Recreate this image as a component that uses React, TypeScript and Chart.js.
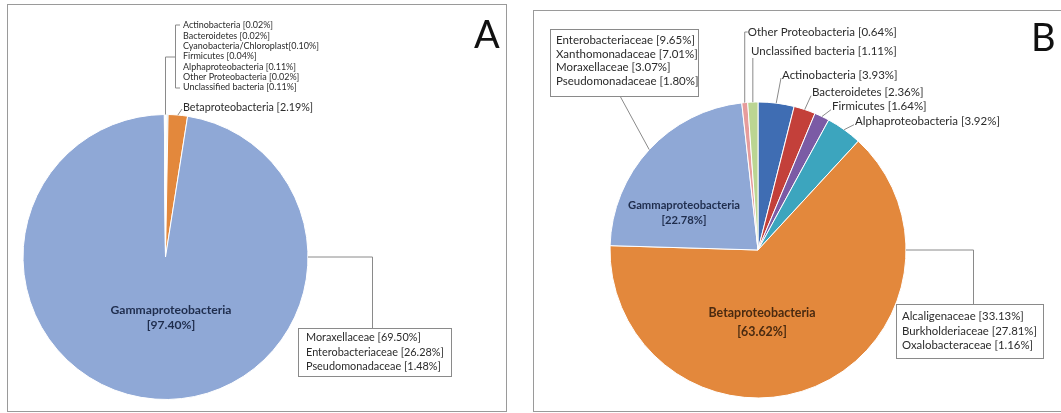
import React, { useEffect, useRef } from "react";
import { Chart, registerables } from "chart.js";

Chart.register(...registerables);

// ---------- DATA ----------
const phylaA = [
  "Actinobacteria",
  "Bacteroidetes",
  "Cyanobacteria/Chloroplast",
  "Firmicutes",
  "Alphaproteobacteria",
  "Betaproteobacteria",
  "Gammaproteobacteria",
  "Other Proteobacteria",
  "Unclassified bacteria",
];
const valuesA = [0.02, 0.02, 0.1, 0.04, 0.11, 2.19, 97.4, 0.02, 0.11];
const familiesA = ["Moraxellaceae", "Enterobacteriaceae", "Pseudomonadaceae"];
const familyValuesA = [69.5, 26.28, 1.48];

const phylaB = [
  "Actinobacteria",
  "Bacteroidetes",
  "Firmicutes",
  "Alphaproteobacteria",
  "Betaproteobacteria",
  "Gammaproteobacteria",
  "Other Proteobacteria",
  "Unclassified bacteria",
];
const valuesB = [3.93, 2.36, 1.64, 3.92, 63.62, 22.78, 0.64, 1.11];
const gammaFamiliesB = ["Enterobacteriaceae", "Xanthomonadaceae", "Moraxellaceae", "Pseudomonadaceae"];
const gammaFamilyValuesB = [9.65, 7.01, 3.07, 1.8];
const betaFamiliesB = ["Alcaligenaceae", "Burkholderiaceae", "Oxalobacteraceae"];
const betaFamilyValuesB = [33.13, 27.81, 1.16];

// ---------- STYLES ----------
const phylumColors: Record<string, string> = {
  Actinobacteria: "#3F6DB3",
  Bacteroidetes: "#C3403A",
  "Cyanobacteria/Chloroplast": "#9BBB59",
  Firmicutes: "#7B5BA5",
  Alphaproteobacteria: "#3CA5BE",
  Betaproteobacteria: "#E3883C",
  Gammaproteobacteria: "#8FA8D6",
  "Other Proteobacteria": "#E69C9C",
  "Unclassified bacteria": "#BBD592",
};

const FAMILY = "Lato, 'Noto Sans', sans-serif";
const TEXT = "#2b2b2b";
const LINE = "#8a8a8a";

const fmt = (name: string, v: number) =>
  name + (name.indexOf("/") >= 0 ? "" : " ") + "[" + v.toFixed(2) + "%]";

// font whose rendering of `sample` is `target` px wide
function fitFont(ctx: CanvasRenderingContext2D, sample: string, target: number, weight = "normal") {
  ctx.font = weight + " 10px " + FAMILY;
  const w = ctx.measureText(sample).width || 1;
  const size = (10 * target) / w;
  return weight + " " + size.toFixed(2) + "px " + FAMILY;
}

function arcGeom(chart: any, i: number) {
  const arc = chart.getDatasetMeta(0).data[i];
  return arc.getProps(["x", "y", "startAngle", "endAngle", "outerRadius"], true);
}
function midPoint(chart: any, i: number): [number, number] {
  const g = arcGeom(chart, i);
  const a = (g.startAngle + g.endAngle) / 2;
  return [g.x + g.outerRadius * Math.cos(a), g.y + g.outerRadius * Math.sin(a)];
}
function anglePoint(chart: any, i: number, a: number): [number, number] {
  const g = arcGeom(chart, i);
  return [g.x + g.outerRadius * Math.cos(a), g.y + g.outerRadius * Math.sin(a)];
}

function poly(ctx: CanvasRenderingContext2D, pts: number[][]) {
  ctx.beginPath();
  ctx.moveTo(pts[0][0], pts[0][1]);
  for (let k = 1; k < pts.length; k++) ctx.lineTo(pts[k][0], pts[k][1]);
  ctx.stroke();
}
function text(ctx: CanvasRenderingContext2D, s: string, x: number, y: number, font: string, color = TEXT, align: CanvasTextAlign = "left") {
  ctx.font = font;
  ctx.fillStyle = color;
  ctx.textAlign = align;
  ctx.textBaseline = "middle";
  ctx.fillText(s, x, y);
}
function box(ctx: CanvasRenderingContext2D, x0: number, y0: number, x1: number, y1: number) {
  ctx.fillStyle = "#ffffff";
  ctx.fillRect(x0, y0, x1 - x0, y1 - y0);
  ctx.strokeRect(x0 + 0.5, y0 + 0.5, x1 - x0, y1 - y0);
}

function drawA(chart: any) {
  const ctx: CanvasRenderingContext2D = chart.ctx;
  ctx.save();
  ctx.strokeStyle = LINE;
  ctx.lineWidth = 1;
  const small = fitFont(ctx, fmt(phylaA[2], valuesA[2]), 136);
  const betaFont = fitFont(ctx, fmt(phylaA[5], valuesA[5]), 130);
  const boxFont = fitFont(ctx, fmt(familiesA[1], familyValuesA[1]), 138);

  // tiny phyla list with bracket
  const tiny = [0, 1, 2, 3, 4, 7, 8];
  tiny.forEach((idx, k) => text(ctx, fmt(phylaA[idx], valuesA[idx]), 183, 25.5 + k * 10.35, small));
  const g0 = arcGeom(chart, 0);
  const top = anglePoint(chart, 0, g0.startAngle);
  poly(ctx, [[top[0], top[1]], [top[0], 57], [175.5, 57]]);
  poly(ctx, [[180, 25], [175.5, 25], [175.5, 88], [180, 88]]);

  // Betaproteobacteria
  const bi = phylaA.indexOf("Betaproteobacteria");
  const bp = midPoint(chart, bi);
  poly(ctx, [bp, [182, 109]]);
  text(ctx, fmt(phylaA[bi], valuesA[bi]), 183, 107.5, betaFont);

  // Gamma inner label
  const gi = phylaA.indexOf("Gammaproteobacteria");
  const inner = fitFont(ctx, phylaA[gi], 121, "bold");
  text(ctx, phylaA[gi], 171, 310, inner, "#1f2d4d", "center");
  text(ctx, "[" + valuesA[gi].toFixed(2) + "%]", 171, 325.5, inner, "#1f2d4d", "center");

  // Gamma families box
  const rp = anglePoint(chart, gi, 0);
  poly(ctx, [rp, [372.5, rp[1]], [372.5, 328]]);
  box(ctx, 298, 328, 451, 376);
  familiesA.forEach((f, k) => text(ctx, fmt(f, familyValuesA[k]), 306, 337.5 + k * 14.5, boxFont));

  text(ctx, "A", 474, 36, "38px " + FAMILY, "#111");
  ctx.restore();
}

function drawB(chart: any) {
  const ctx: CanvasRenderingContext2D = chart.ctx;
  ctx.save();
  ctx.strokeStyle = LINE;
  ctx.lineWidth = 1;
  const gBoxFont = fitFont(ctx, fmt(gammaFamiliesB[0], gammaFamilyValuesB[0]), 139);
  const sideFont = fitFont(ctx, fmt(phylaB[3], valuesB[3]), 145);
  const bBoxFont = fitFont(ctx, fmt(betaFamiliesB[1], betaFamilyValuesB[1]), 135);

  // Gamma families box (top-left)
  const gi = phylaB.indexOf("Gammaproteobacteria");
  const gp = midPoint(chart, gi);
  poly(ctx, [[620, 96], gp]);
  box(ctx, 550, 29, 698, 96);
  gammaFamiliesB.forEach((f, k) => text(ctx, fmt(f, gammaFamilyValuesB[k]), 556, 40.7 + k * 13.5, gBoxFont));

  // Other Proteobacteria
  const oi = phylaB.indexOf("Other Proteobacteria");
  const op = midPoint(chart, oi);
  poly(ctx, [op, [op[0], 32], [op[0] + 3, 32]]);
  text(ctx, fmt(phylaB[oi], valuesB[oi]), op[0] + 3, 32, sideFont);

  // Unclassified bacteria
  const ui = phylaB.indexOf("Unclassified bacteria");
  const up = midPoint(chart, ui);
  poly(ctx, [up, [up[0], 58]]);
  text(ctx, fmt(phylaB[ui], valuesB[ui]), 751, 51.7, sideFont);

  // right-hand phyla
  const side: [string, number, number][] = [
    ["Actinobacteria", 782, 75],
    ["Bacteroidetes", 812, 92.7],
    ["Firmicutes", 832, 106.7],
    ["Alphaproteobacteria", 855, 121.7],
  ];
  side.forEach(([name, tx, ty]) => {
    const i = phylaB.indexOf(name);
    const p = midPoint(chart, i);
    poly(ctx, [p, [tx - 1, ty + 3]]);
    text(ctx, fmt(name, valuesB[i]), tx, ty, sideFont);
  });

  // inner labels
  const gInner = fitFont(ctx, phylaB[gi], 112, "bold");
  text(ctx, phylaB[gi], 684, 205, gInner, "#1f2d4d", "center");
  text(ctx, "[" + valuesB[gi].toFixed(2) + "%]", 684, 220.7, gInner, "#1f2d4d", "center");
  const bi = phylaB.indexOf("Betaproteobacteria");
  const bInner = fitFont(ctx, phylaB[bi], 107, "bold");
  text(ctx, phylaB[bi], 762, 313, bInner, "#4a2a10", "center");
  text(ctx, "[" + valuesB[bi].toFixed(2) + "%]", 762, 331.5, bInner, "#4a2a10", "center");

  // Beta families box
  const rp = anglePoint(chart, bi, 0);
  poly(ctx, [rp, [973.5, rp[1]], [973.5, 304]]);
  box(ctx, 896, 304, 1043, 358);
  betaFamiliesB.forEach((f, k) => text(ctx, fmt(f, betaFamilyValuesB[k]), 902, 316.7 + k * 14.3, bBoxFont));

  text(ctx, "B", 1031, 39, "38px " + FAMILY, "#111");
  ctx.restore();
}

function makeChart(
  canvas: HTMLCanvasElement,
  labels: string[],
  values: number[],
  padding: { left: number; right: number; top: number; bottom: number },
  draw: (c: any) => void
) {
  return new Chart(canvas, {
    type: "pie",
    data: {
      labels,
      datasets: [
        {
          data: values,
          backgroundColor: labels.map((l) => phylumColors[l]),
          borderColor: "#ffffff",
          borderWidth: 1,
        },
      ],
    },
    options: {
      responsive: false,
      animation: false,
      events: [],
      layout: { padding },
      plugins: { legend: { display: false }, tooltip: { enabled: false } },
    },
    plugins: [{ id: "annot", afterDatasetsDraw: (c: any) => draw(c) }],
  });
}

export default function App() {
  const refA = useRef<HTMLCanvasElement>(null);
  const refB = useRef<HTMLCanvasElement>(null);

  useEffect(() => {
    const a = makeChart(refA.current!, phylaA, valuesA, { left: 22.5, right: 752.5, top: 114, bottom: 13 }, drawA);
    const b = makeChart(refB.current!, phylaB, valuesB, { left: 609.5, right: 154.5, top: 101.5, bottom: 14.5 }, drawB);
    return () => {
      a.destroy();
      b.destroy();
    };
  }, []);

  const canvasStyle: React.CSSProperties = { position: "absolute", left: 0, top: 0, width: 1061, height: 413, display: "block" };
  return (
    <div style={{ position: "absolute", left: 0, top: 0, width: 1061, height: 413, background: "#fff", overflow: "hidden" }}>
      <div style={{ position: "absolute", left: 7, top: 4, width: 498, height: 406, border: "1.5px solid #9a9a9a" }} />
      <div style={{ position: "absolute", left: 533, top: 10, width: 540, height: 400, border: "1.5px solid #9a9a9a" }} />
      <canvas ref={refA} width={1061} height={413} style={canvasStyle} />
      <canvas ref={refB} width={1061} height={413} style={canvasStyle} />
    </div>
  );
}
